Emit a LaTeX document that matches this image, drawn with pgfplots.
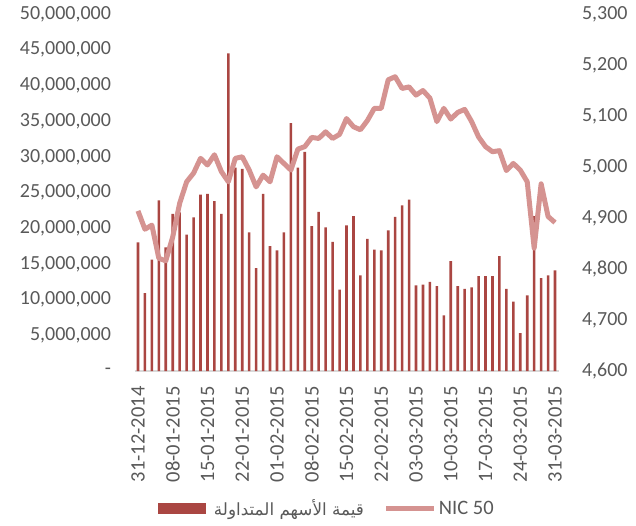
\documentclass[border=0pt]{standalone}
\usepackage{pgfplots}
\pgfplotsset{compat=1.18}
\usepackage{fontspec}
\setmainfont{Carlito}
\newfontfamily\arabicfont[Script=Arabic]{DejaVu Sans}
\TeXXeTstate=1
\definecolor{barred}{RGB}{170,70,66}
\definecolor{linepink}{RGB}{213,147,145}
\definecolor{txtgray}{RGB}{89,89,89}
\definecolor{axgray}{RGB}{217,217,217}
\begin{document}
\begin{tikzpicture}
\useasboundingbox (0,0) rectangle (636pt,525pt);
\begin{axis}[
  at={(134.5pt,154pt)}, anchor=south west,
  scale only axis, width=424pt, height=357pt,
  xmin=0.5, xmax=61.5, ymin=0, ymax=50000000,
  axis y line*=left, axis x line*=bottom,
  y axis line style={draw=none},
  x axis line style={draw=axgray, line width=1.2pt},
  major tick length=0pt,
  scaled y ticks=false,
  ytick={0,5000000,10000000,15000000,20000000,25000000,30000000,35000000,40000000,45000000,50000000},
  yticklabels={-,{5,000,000},{10,000,000},{15,000,000},{20,000,000},{25,000,000},{30,000,000},{35,000,000},{40,000,000},{45,000,000},{50,000,000}},
  xtick={1,6,11,16,21,26,31,36,41,46,51,56,61},
  xticklabels={31-12-2014,08-01-2015,15-01-2015,22-01-2015,01-02-2015,08-02-2015,15-02-2015,22-02-2015,03-03-2015,10-03-2015,17-03-2015,24-03-2015,31-03-2015},
  x tick label style={rotate=90, anchor=east, font=\fontsize{20.5}{22}\selectfont, text=txtgray},
  y tick label style={font=\fontsize{20}{22}\selectfont, text=txtgray},
  xticklabel shift=12pt,
  yticklabel shift=20pt,
]
\addplot[ybar, bar width=2.6pt, fill=barred, draw=none] coordinates {
(1,18.0e6)(2,10.9e6)(3,15.6e6)(4,23.9e6)(5,17.3e6)(6,22.0e6)(7,22.2e6)(8,19.1e6)(9,21.5e6)(10,24.7e6)
(11,24.8e6)(12,23.8e6)(13,22.0e6)(14,44.5e6)(15,28.5e6)(16,28.3e6)(17,19.4e6)(18,14.4e6)(19,24.8e6)(20,17.5e6)
(21,16.9e6)(22,19.4e6)(23,34.7e6)(24,28.5e6)(25,30.7e6)(26,20.3e6)(27,22.3e6)(28,20.1e6)(29,18.1e6)(30,11.4e6)
(31,20.4e6)(32,21.7e6)(33,13.4e6)(34,18.5e6)(35,17.0e6)(36,16.9e6)(37,19.7e6)(38,21.6e6)(39,23.2e6)(40,24.0e6)
(41,12.0e6)(42,12.1e6)(43,12.5e6)(44,11.9e6)(45,7.8e6)(46,15.4e6)(47,11.9e6)(48,11.5e6)(49,11.7e6)(50,13.3e6)
(51,13.3e6)(52,13.3e6)(53,16.1e6)(54,11.5e6)(55,9.7e6)(56,5.3e6)(57,10.6e6)(58,21.7e6)(59,13.0e6)(60,13.4e6)
(61,14.1e6)};
\end{axis}
\begin{axis}[
  at={(134.5pt,154pt)}, anchor=south west,
  scale only axis, width=424pt, height=357pt,
  xmin=0.5, xmax=61.5, ymin=4600, ymax=5300,
  axis y line*=right, axis x line=none,
  y axis line style={draw=none},
  major tick length=0pt,
  ytick={4600,4700,4800,4900,5000,5100,5200,5300},
  yticklabels={{4,600},{4,700},{4,800},{4,900},{5,000},{5,100},{5,200},{5,300}},
  y tick label style={font=\fontsize{20}{22}\selectfont, text=txtgray},
  yticklabel shift=20pt,
  legend columns=2,
  legend style={at={(0.447,-0.385)}, anchor=center, draw=none, fill=none,
    font=\fontsize{20.5}{22}\selectfont, text=txtgray, inner sep=0pt,
    /tikz/every odd column/.append style={column sep=0pt},
    /tikz/every even column/.append style={column sep=18pt},
    nodes={inner xsep=2pt, inner ysep=1pt}},
  legend image code/.code={\draw[#1] (0pt,0pt) -- (48pt,0pt);},
]
\addlegendimage{line width=11.5pt, draw=barred}
\addlegendentry{\arabicfont\fontsize{16.8}{19}\selectfont\beginR قيمة الأسهم المتداولة\endR}
\addplot[linepink, line width=5pt, line join=round] coordinates {
(1,4914)(2,4878)(3,4886)(4,4821)(5,4816)(6,4863)(7,4929)(8,4971)(9,4988)(10,5017)
(11,5004)(12,5024)(13,4991)(14,4971)(15,5017)(16,5020)(17,4994)(18,4961)(19,4984)(20,4971)
(21,5020)(22,5007)(23,4994)(24,5035)(25,5040)(26,5058)(27,5056)(28,5069)(29,5056)(30,5064)
(31,5095)(32,5079)(33,5073)(34,5091)(35,5115)(36,5115)(37,5171)(38,5177)(39,5154)(40,5157)
(41,5141)(42,5150)(43,5135)(44,5089)(45,5115)(46,5094)(47,5107)(48,5113)(49,5089)(50,5059)
(51,5040)(52,5030)(53,5032)(54,4993)(55,5007)(56,4994)(57,4971)(58,4841)(59,4967)(60,4903)
(61,4891)};
\addlegendentry{NIC 50}
\end{axis}
\end{tikzpicture}
\end{document}
